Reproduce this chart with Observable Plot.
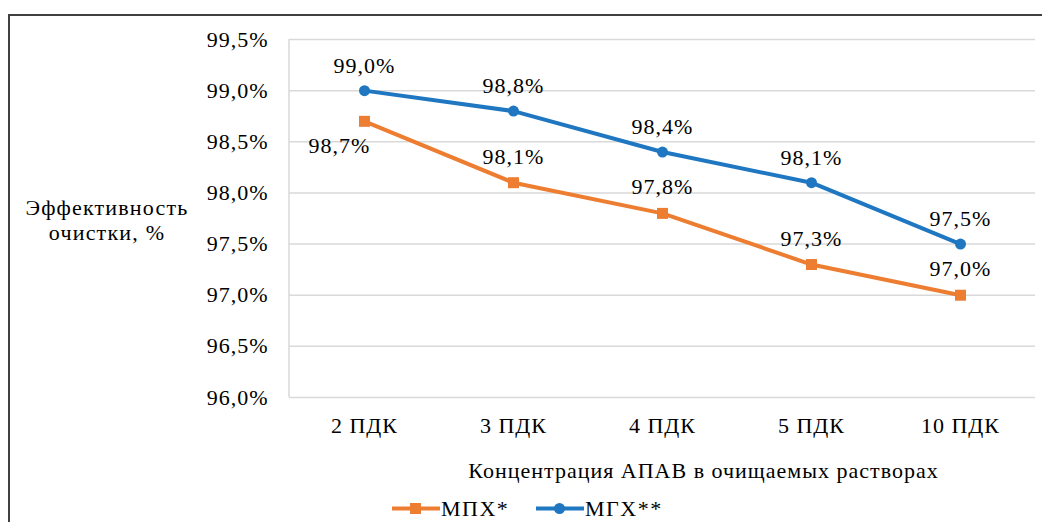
<!DOCTYPE html>
<html><head><meta charset="utf-8">
<script src="https://cdn.jsdelivr.net/npm/d3@7"></script>
<script src="https://cdn.jsdelivr.net/npm/@observablehq/plot@0.6"></script>
<style>
html,body{margin:0;padding:0;background:#fff;}
#wrap{position:relative;width:1042px;height:522px;overflow:hidden;font-family:'Liberation Serif','Times New Roman','DejaVu Serif',serif;}
#frame{position:absolute;left:8px;top:14px;width:1100px;height:600px;border-top:2px solid #404040;border-left:2px solid #404040;}
#ylab{position:absolute;left:7px;top:195px;width:200px;text-align:center;font-size:22px;line-height:25px;color:#000;letter-spacing:1.2px;}
#legend{position:absolute;left:0;top:496px;width:1042px;height:26px;}
#legend .item{position:absolute;top:0;display:flex;align-items:center;font-size:22px;height:26px;color:#000;letter-spacing:1.5px;}
svg text{font-family:'Liberation Serif','Times New Roman','DejaVu Serif',serif;letter-spacing:1px;}
svg text.xtitle{letter-spacing:1.6px;}
</style></head>
<body><div id="wrap"><div id="frame"></div><div id="chart"></div><div id="ylab">Эффективность<br>очистки, %</div><div id="legend"></div></div>
<script>
const categories = ["2 ПДК","3 ПДК","4 ПДК","5 ПДК","10 ПДК"];
const mpx = [98.7, 98.1, 97.8, 97.3, 97.0];
const mgx = [99.0, 98.8, 98.4, 98.1, 97.5];
const yTicks = [96.0, 96.5, 97.0, 97.5, 98.0, 98.5, 99.0, 99.5];
const seriesNames = ["МПХ*", "МГХ**"];
const xTitle = "Концентрация АПАВ в очищаемых растворах";

const orange = "#ED7D31", blue = "#1F77C2";
const serif = "'Liberation Serif','Times New Roman','DejaVu Serif',serif";
const fmt = d => d.toFixed(1).replace(".", ",") + "%";
const dMpx = categories.map((c,i)=>({cat:c, v:mpx[i], i}));
const dMgx = categories.map((c,i)=>({cat:c, v:mgx[i], i}));

const leftEdge = (index, scales, values, dim) => {
  const l = document.createElementNS("http://www.w3.org/2000/svg", "line");
  l.setAttribute("x1", dim.marginLeft); l.setAttribute("x2", dim.marginLeft);
  l.setAttribute("y1", dim.marginTop); l.setAttribute("y2", dim.height - dim.marginBottom);
  l.setAttribute("stroke", "#d9d9d9"); l.setAttribute("stroke-width", 1.5);
  return l;
};

const chart = Plot.plot({
  width: 1042, height: 496,
  marginLeft: 289, marginRight: 7, marginTop: 39, marginBottom: 99,
  style: {fontFamily: serif, fontSize: "22px", color: "#000", background: "transparent"},
  x: {type: "point", domain: categories, padding: 0.5},
  y: {domain: [96, 99.5]},
  marks: [
    Plot.gridY(yTicks, {stroke: "#d9d9d9", strokeOpacity: 1, strokeWidth: 1.5}),
    leftEdge,
    Plot.axisY({ticks: yTicks, tickFormat: fmt, tickSize: 0, tickPadding: 21, label: null, fontSize: 22}),
    Plot.axisX({tickSize: 0, tickPadding: 20, label: null, fontSize: 22}),
    Plot.text([xTitle], {frameAnchor: "bottom", dx: 41, dy: 80, fontSize: 22, text: d => d, className: "xtitle"}),
    Plot.line(dMpx, {x: "cat", y: "v", stroke: orange, strokeWidth: 4}),
    Plot.line(dMgx, {x: "cat", y: "v", stroke: blue, strokeWidth: 4}),
    Plot.dot(dMpx, {x: "cat", y: "v", symbol: "square", r: 6.2, fill: orange, stroke: "none"}),
    Plot.dot(dMgx, {x: "cat", y: "v", symbol: "circle", r: 5.5, fill: blue, stroke: "none"}),
    Plot.text(dMgx, {x: "cat", y: "v", text: d => fmt(d.v), dy: -25, fontSize: 22, fill: "#000"}),
    Plot.text(dMpx.filter(d => d.i > 0), {x: "cat", y: "v", text: d => fmt(d.v), dy: -26, fontSize: 22, fill: "#000"}),
    Plot.text(dMpx.filter(d => d.i === 0), {x: "cat", y: "v", text: d => fmt(d.v), dx: -25, dy: 25, fontSize: 22, fill: "#000"})
  ]
});
document.getElementById("chart").appendChild(chart);
chart.style.position = "absolute"; chart.style.left = "0"; chart.style.top = "0";

// legend
const leg = document.getElementById("legend");
const items = [
  {name: seriesNames[0], color: orange, sym: "square", left: 392},
  {name: seriesNames[1], color: blue, sym: "circle", left: 536}
];
for (const it of items) {
  const div = document.createElement("div");
  div.className = "item";
  div.style.left = it.left + "px";
  const shape = it.sym === "square"
    ? `<rect x="18" y="7" width="11" height="11" fill="${it.color}"/>`
    : `<circle cx="23.5" cy="12.5" r="5.5" fill="${it.color}"/>`;
  div.innerHTML = `<svg width="48" height="26"><line x1="0" x2="48" y1="12.5" y2="12.5" stroke="${it.color}" stroke-width="4"/>${shape}</svg><span style="margin-left:1px">${it.name}</span>`;
  leg.appendChild(div);
}
</script></body></html>
